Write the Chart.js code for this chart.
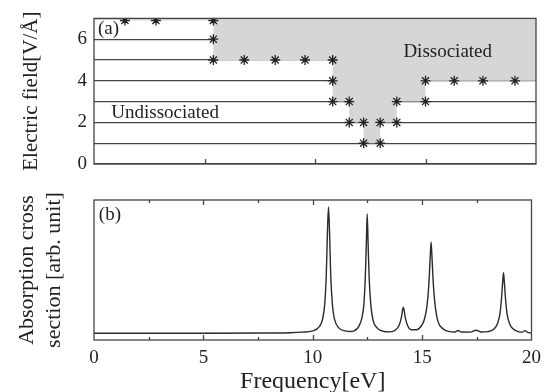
<!DOCTYPE html>
<html><head><meta charset="utf-8">
<script src="https://cdn.jsdelivr.net/npm/chart.js@4"></script>
<style>
html,body{margin:0;padding:0;background:#fff;width:548px;height:392px;overflow:hidden}
#c1{position:absolute;left:0;top:0}
#c2{position:absolute;left:0;top:180px}
</style></head><body>
<canvas id="c1" width="548" height="185"></canvas>
<canvas id="c2" width="548" height="214"></canvas>
<script>
// ---- Panel (a): dissociation map ----
const markerFreq  = [1.4, 2.8, 5.4, 5.4, 5.4, 6.8, 8.2, 9.55, 10.8, 10.8, 10.8, 11.55, 13.7, 15.0, 15.0, 16.3, 17.6, 19.05, 11.55, 12.2, 12.95, 13.7, 12.2, 12.95];
const markerField = [6.9, 6.9, 6.9, 6,   5,   5,   5,   5,    5,    4,    3,    3,     3,    3,    4,    4,    4,    4,     2,     2,    2,     2,    1,    1];
const boundaryFreq  = [1.4, 5.4, 10.8, 11.55, 12.2, 12.95, 13.7, 15.0, 20];
const boundaryField = [6.9, 5,   3,    2,     1,    2,     3,    4,    4];
const fieldTickLabels = [0, 2, 4, 6];

// ---- Panel (b): absorption spectrum ----
const freq = [0, 5, 8, 9, 9.5, 10.0, 10.3, 10.45, 10.55, 10.62, 10.67, 10.72, 10.77, 10.82, 10.9, 11.0, 11.2, 11.5, 11.7, 11.9,
  12.1, 12.25, 12.34, 12.4, 12.45, 12.49, 12.53, 12.58, 12.65, 12.75, 12.95, 13.2, 13.5, 13.75, 13.95, 14.05, 14.14, 14.23, 14.33, 14.5,
  14.75, 14.95, 15.1, 15.22, 15.3, 15.36, 15.41, 15.46, 15.52, 15.6, 15.72, 15.95, 16.25, 16.5, 16.64, 16.8, 17.2, 17.47, 17.7, 18.0,
  18.3, 18.45, 18.56, 18.63, 18.68, 18.72, 18.76, 18.81, 18.88, 18.99, 19.15, 19.4, 19.6, 19.7, 19.82, 20];
const absorption = [4.8, 4.8, 5.0, 5.2, 5.6, 6.5, 9.5, 15, 26, 47, 76, 95, 76, 47, 25, 14.5, 8.5, 6.5, 6.1, 6.6,
  9.5, 16, 26, 44, 69, 90, 69, 44, 26, 14.5, 8.5, 6.4, 5.8, 6.8, 10.5, 16, 23.4, 16, 10.5, 7.3,
  7.3, 9.8, 14.5, 24, 38, 56, 70, 56, 38, 24, 13.5, 8, 6.0, 5.7, 6.8, 5.7, 5.6, 7.0, 5.7, 6.0,
  8, 12, 19, 30, 41, 48, 41, 30, 19, 12, 8, 6.0, 5.6, 6.7, 5.5, 5.0];
const freqTickLabels = [0, 5, 10, 15, 20];

const FONT = '"Liberation Serif", "Times New Roman", serif';
const INK = '#222';
const FRAME = '#444';

const framePlugin = {
  id: 'frame',
  afterDraw(chart, args, opts) {
    const {ctx, chartArea: a} = chart;
    const x = chart.scales.x, y = chart.scales.y;
    ctx.save();
    ctx.strokeStyle = FRAME; ctx.lineWidth = 1.3;
    ctx.beginPath();
    x.ticks.forEach(t => {
      const px = Math.round(x.getPixelForValue(t.value)) + 0.5;
      if (px <= a.left + 2 || px >= a.right - 2) return;
      const len = (t.value % 5 === 0) ? 5 : 3;
      ctx.moveTo(px, a.bottom); ctx.lineTo(px, a.bottom - len);
      if (opts.topTicks) { ctx.moveTo(px, a.top); ctx.lineTo(px, a.top + len); }
    });
    ctx.stroke();
    ctx.strokeRect(a.left, a.top, a.right - a.left, a.bottom - a.top);
    ctx.fillStyle = INK;
    ctx.font = '19px ' + FONT;
    ctx.textBaseline = 'middle';
    ctx.textAlign = 'left';
    (opts.labels || []).forEach(l => {
      ctx.fillText(l.text, x.getPixelForValue(l.x), y.getPixelForValue(l.y));
    });
    ctx.restore();
  }
};

new Chart(document.getElementById('c1'), {
  type: 'line',
  data: {
    datasets: [
      {
        data: markerFreq.map((v, i) => ({x: v, y: markerField[i]})),
        showLine: false,
        pointStyle: 'star',
        pointRadius: 5,
        pointBorderWidth: 1.3,
        pointBorderColor: '#222',
        pointBackgroundColor: '#222',
        order: 0
      },
      {
        data: boundaryFreq.map((v, i) => ({x: v, y: boundaryField[i]})),
        stepped: 'before',
        fill: 'end',
        backgroundColor: '#d6d6d6',
        borderWidth: 0,
        borderColor: 'rgba(0,0,0,0)',
        pointRadius: 0,
        order: 1
      }
    ]
  },
  options: {
    responsive: false,
    animation: false,
    events: [],
    layout: {padding: {top: 13, right: 12, left: 0, bottom: 0}},
    plugins: {
      legend: {display: false}, tooltip: {enabled: false},
      frame: {topTicks: false, labels: [
        {text: '(a)', x: 0.18, y: 6.5},
        {text: 'Undissociated', x: 0.78, y: 2.45},
        {text: 'Dissociated', x: 14.0, y: 5.38}
      ]}
    },
    scales: {
      x: {
        type: 'linear', min: 0, max: 20,
        ticks: {display: false, stepSize: 5},
        grid: {display: false},
        border: {display: false},
        afterFit: s => { s.height = 21; }
      },
      y: {
        min: 0, max: 7, z: 1,
        ticks: {stepSize: 1, autoSkip: false, padding: 7, color: INK, font: {family: FONT, size: 19},
          callback: v => fieldTickLabels.includes(v) ? String(v) : ''},
        grid: {color: FRAME, lineWidth: 1.3, drawTicks: false},
        border: {display: false},
        title: {display: true, text: 'Electric field[V/Å]', color: INK,
          font: {family: FONT, size: 21, lineHeight: 1.2}, padding: {top: 19, bottom: 0}},
        afterFit: s => { s.width = 94; }
      }
    }
  },
  plugins: [framePlugin]
});

new Chart(document.getElementById('c2'), {
  type: 'line',
  data: {
    datasets: [{
      data: freq.map((v, i) => ({x: v, y: absorption[i]})),
      borderColor: '#2a2a2a',
      borderWidth: 1.4,
      pointRadius: 0,
      fill: false,
      cubicInterpolationMode: 'monotone'
    }]
  },
  options: {
    responsive: false,
    animation: false,
    events: [],
    layout: {padding: {top: 20, right: 12, left: 0, bottom: 0}},
    plugins: {
      legend: {display: false}, tooltip: {enabled: false},
      frame: {topTicks: true, labels: [{text: '(b)', x: 0.22, y: 89}]}
    },
    scales: {
      x: {
        type: 'linear', min: 0, max: 20,
        ticks: {stepSize: 2.5, autoSkip: false, maxRotation: 0, padding: 7, color: INK,
          font: {family: FONT, size: 19},
          callback: v => freqTickLabels.includes(v) ? String(v) : ''},
        grid: {display: false, drawTicks: false},
        border: {display: false},
        title: {display: true, text: 'Frequency[eV]', color: INK,
          font: {family: FONT, size: 24, lineHeight: 1}, padding: {top: 0, bottom: 0}},
        afterFit: s => { s.height = 54; }
      },
      y: {
        min: 0, max: 100,
        ticks: {display: false},
        grid: {display: false, drawTicks: false},
        border: {display: false},
        title: {display: true, text: ['Absorption cross', 'section [arb. unit]'], color: INK,
          font: {family: FONT, size: 22, lineHeight: 1.23}, padding: {top: 14, bottom: 0}},
        afterFit: s => { s.width = 94; }
      }
    }
  },
  plugins: [framePlugin]
});
</script>
</body></html>
